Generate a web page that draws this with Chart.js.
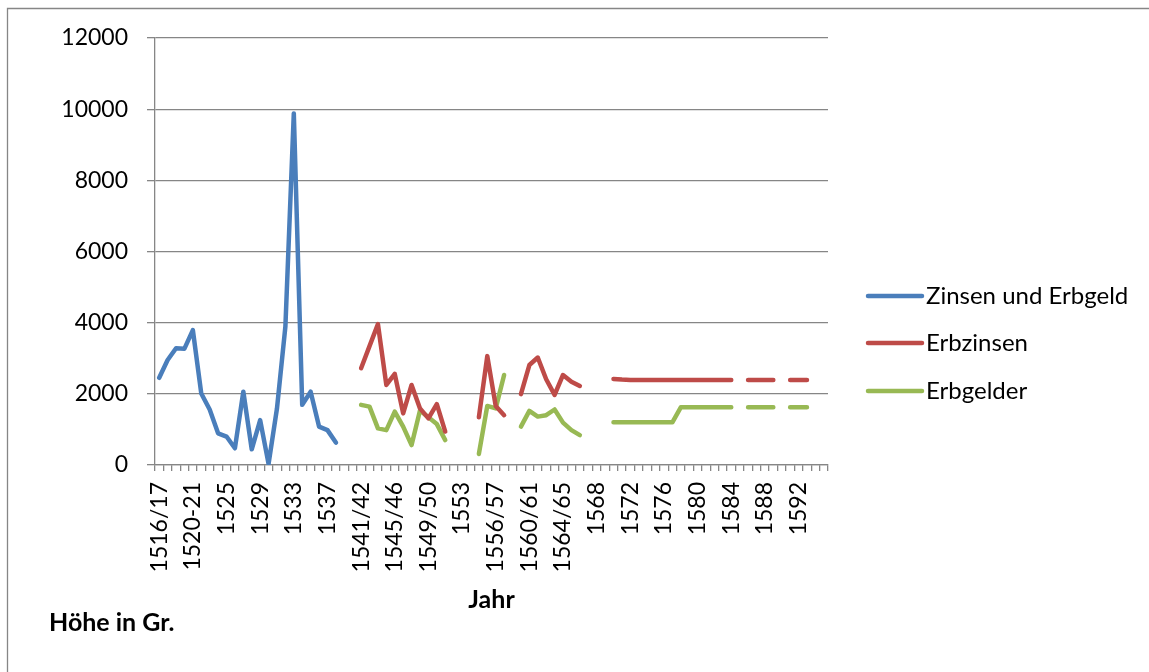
<!DOCTYPE html>
<html>
<head>
<meta charset="utf-8">
<script src="https://cdn.jsdelivr.net/npm/chart.js@4"></script>
<style>
  html, body { margin: 0; padding: 0; background: #fff; }
</style>
</head>
<body>
<canvas id="erbChart" width="1149" height="672"></canvas>
<script>
  // x categories (only every 4th one is labelled)
  const years = [
    "1516/17", "1517/18", "1518/19", "1519/20", "1520-21", "1521-22", "1522-23", "1523-24",
    "1525", "1526", "1527", "1528", "1529", "1530", "1531", "1532",
    "1533", "1534", "1535", "1536", "1537", "1538", "1539", "1540",
    "1541/42", "1542/43", "1543/44", "1544/45", "1545/46", "1546/47", "1547/48", "1548/49",
    "1549/50", "1550/51", "1551/52", "1552", "1553", "1554", "1555", "1555/56",
    "1556/57", "1557/58", "1558/59", "1559/60", "1560/61", "1561/62", "1562/63", "1563/64",
    "1564/65", "1565/66", "1566/67", "1567", "1568", "1569", "1570", "1571",
    "1572", "1573", "1574", "1575", "1576", "1577", "1578", "1579",
    "1580", "1581", "1582", "1583", "1584", "1585", "1586", "1587",
    "1588", "1589", "1590", "1591", "1592", "1593", "1594", "1595"
  ];

  const zinsenUndErbgeld = [
    2450, 2950, 3280, 3270, 3790, 2010, 1560, 890, 800, 470, 2060, 440,
    1260, 30, 1590, 3890, 9880, 1690, 2060, 1080, 980, 630
  ];

  const erbzinsen = [
    null, null, null, null, null, null, null, null, null, null, null, null,
    null, null, null, null, null, null, null, null, null, null, null, null,
    2720, 3340, 3960, 2250, 2560, 1450, 2250, 1590, 1310, 1710, 940,
    null, null, null,
    1340, 3060, 1660, 1400,
    null,
    1990, 2810, 3020, 2410, 1970, 2530, 2340, 2220,
    null, null, null,
    2420, 2400, 2390, 2390, 2390, 2390, 2390, 2390, 2390, 2390, 2390, 2390, 2390, 2390, 2390,
    null,
    2390, 2390, 2390, 2390,
    null,
    2390, 2390, 2390
  ];

  const erbgelder = [
    null, null, null, null, null, null, null, null, null, null, null, null,
    null, null, null, null, null, null, null, null, null, null, null, null,
    1690, 1640, 1030, 980, 1500, 1080, 560, 1530, 1340, 1150, 700,
    null, null, null,
    310, 1660, 1590, 2530,
    null,
    1080, 1520, 1360, 1400, 1560, 1190, 980, 840,
    null, null, null,
    1200, 1200, 1200, 1200, 1200, 1200, 1200, 1200, 1620, 1620, 1620, 1620, 1620, 1620, 1620,
    null,
    1620, 1620, 1620, 1620,
    null,
    1620, 1620, 1620
  ];

  const yTicks = [0, 2000, 4000, 6000, 8000, 10000, 12000];

  const FONT = "Lato";
  const GREY = "#868686";

  // frame, legend and the y title drawn on top of the chart
  const extras = {
    id: "extras",
    beforeDraw(chart) {
      const c = chart.ctx;
      c.save();
      c.strokeStyle = GREY;
      c.lineWidth = 1.3;
      c.beginPath();
      c.moveTo(7.5, 672);
      c.lineTo(7.5, 8.5);
      c.lineTo(1149, 8.5);
      c.stroke();
      c.restore();
    },
    afterDraw(chart) {
      const c = chart.ctx;
      c.save();
      const ys = [296, 343, 391];
      chart.data.datasets.forEach((ds, i) => {
        c.strokeStyle = ds.borderColor;
        c.lineWidth = 4.5;
        c.lineCap = "round";
        c.beginPath();
        c.moveTo(868, ys[i]);
        c.lineTo(922, ys[i]);
        c.stroke();
        c.fillStyle = "#000";
        c.font = "24px " + FONT;
        c.textBaseline = "middle";
        c.fillText(ds.label, 926, ys[i]);
      });
      c.font = "bold 25px " + FONT;
      c.fillText("Höhe in Gr.", 49, 623);
      c.restore();
    }
  };

  const ctx = document.getElementById("erbChart").getContext("2d");

  const myChart = new Chart(ctx, {
    type: "line",
    data: {
      labels: years,
      datasets: [
        { label: "Zinsen und Erbgeld", data: zinsenUndErbgeld, borderColor: "#4A7EBB" },
        { label: "Erbzinsen", data: erbzinsen, borderColor: "#BE4B48" },
        { label: "Erbgelder", data: erbgelder, borderColor: "#98B954" }
      ].map(ds => Object.assign(ds, {
        borderWidth: 4.5,
        pointRadius: 0,
        tension: 0,
        fill: false,
        spanGaps: false,
        borderCapStyle: "round",
        borderJoinStyle: "round"
      }))
    },
    options: {
      responsive: false,
      animation: false,
      layout: {
        padding: { left: 0, top: 38, right: 321, bottom: 53 }
      },
      plugins: {
        legend: { display: false },
        tooltip: { enabled: false }
      },
      scales: {
        x: {
          offset: true,
          grid: {
            offset: true,
            drawOnChartArea: false,
            tickLength: 6,
            color: GREY,
            lineWidth: 1.3
          },
          border: { color: GREY, width: 1.3 },
          ticks: {
            autoSkip: false,
            minRotation: 90,
            maxRotation: 90,
            padding: 11,
            color: "#000",
            font: { family: FONT, size: 23 },
            callback: function(value, index) {
              return index % 4 === 0 ? years[index] : "";
            }
          },
          title: {
            display: true,
            text: "Jahr",
            color: "#000",
            font: { family: FONT, size: 25, weight: "bold" },
            padding: { top: 4, bottom: 4 }
          },
          afterFit: function(scale) {
            scale.height = 154;
          }
        },
        y: {
          min: 0,
          max: 12000,
          afterBuildTicks: function(scale) {
            scale.ticks = yTicks.map(v => ({ value: v }));
          },
          grid: {
            color: GREY,
            lineWidth: 1.3,
            tickLength: 8
          },
          border: { color: GREY, width: 1.3 },
          ticks: {
            padding: 19,
            color: "#000",
            font: { family: FONT, size: 23 },
            callback: function(value) {
              return String(value);
            }
          },
          afterFit: function(scale) {
            scale.width = 155;
          }
        }
      }
    },
    plugins: [extras]
  });
</script>
</body>
</html>
